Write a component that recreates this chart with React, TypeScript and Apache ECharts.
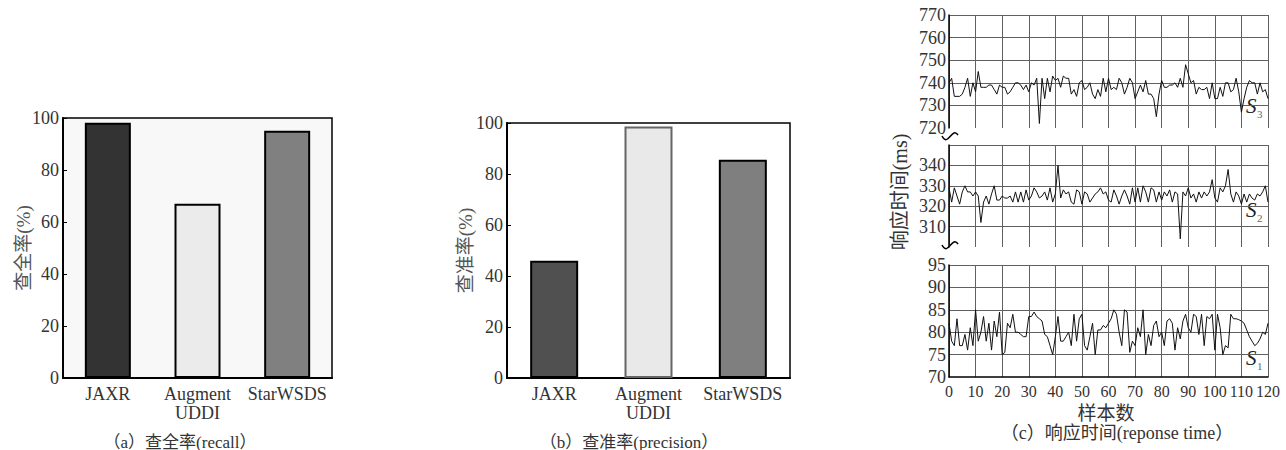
import React, { useEffect, useRef } from "react";
import * as echarts from "echarts";

const barCategories = ["JAXR", "Augment\nUDDI", "StarWSDS"];
const recallValues = [98.2, 67.0, 95.1];
const precisionValues = [46.0, 98.6, 85.6];

const sampleTickLabels = ["0", "10", "20", "30", "40", "50", "60", "70", "80", "90", "100", "110", "120"];

const s3Values = [
  740, 742, 734, 734, 734, 735, 738, 742, 734, 740,
  736, 745, 738, 738, 738, 739, 739, 737, 735, 739,
  738, 738, 735, 736, 738, 740, 740, 739, 737, 739,
  736, 740, 739, 742, 722, 742, 733, 742, 736, 743,
  741, 742, 738, 743, 742, 742, 735, 737, 734, 740,
  741, 737, 738, 740, 735, 733, 737, 734, 742, 736,
  742, 737, 738, 737, 742, 740, 735, 738, 742, 740,
  733, 736, 739, 736, 741, 735, 735, 733, 725, 735,
  741, 738, 738, 739, 739, 740, 738, 742, 738, 748,
  744, 740, 741, 735, 738, 737, 737, 738, 733, 740,
  733, 733, 738, 734, 740, 740, 736, 737, 742, 736,
  727, 733, 738, 741, 740, 740, 735, 740, 736, 737,
  733,
];

const s2Values = [
  329, 322, 329, 325, 321, 327, 330, 327, 327, 325,
  327, 325, 312, 322, 325, 321, 326, 330, 323, 323,
  325, 324, 324, 325, 322, 327, 322, 327, 322, 328,
  323, 325, 329, 327, 324, 325, 327, 323, 329, 322,
  326, 340, 324, 328, 326, 327, 322, 321, 328, 327,
  321, 327, 326, 322, 324, 326, 327, 329, 326, 327,
  323, 322, 328, 325, 321, 325, 328, 325, 321, 329,
  322, 329, 322, 330, 327, 322, 329, 328, 322, 327,
  323, 327, 325, 328, 322, 327, 326, 304, 327, 325,
  329, 324, 326, 322, 327, 324, 327, 325, 327, 333,
  324, 322, 329, 327, 330, 338, 326, 322, 327, 325,
  321, 326, 322, 326, 324, 323, 326, 325, 327, 330,
  322,
];

const s1Values = [
  82, 78, 77, 83, 77, 77, 79.5, 76, 81, 77,
  85, 78, 80, 83.5, 78, 82, 76, 82.5, 79, 84.5,
  75, 75.5, 82, 81, 84, 80, 80, 79.5, 79, 79,
  83.5, 83.5, 84.5, 83.5, 83, 82.5, 79.5, 79, 77, 75,
  79, 83.5, 78, 78, 79, 80, 77, 84, 78, 83,
  84, 77, 76, 79, 82, 75, 80.5, 80.5, 81.5, 81,
  82, 83, 85, 84, 80, 77, 85, 84.5, 75.5, 78,
  77, 81, 79, 85, 75, 79.5, 77, 81.5, 82.5, 79,
  80, 77, 82.5, 83, 82, 76, 81, 78.5, 82.5, 84,
  81, 80, 84, 83.5, 79.5, 84, 77, 83.5, 83, 84,
  76, 84, 81, 75, 77, 76.5, 84, 83, 83, 82.8,
  82.5, 82, 80.5, 79, 78, 77, 77.5, 78.5, 80, 79.5,
  82,
];

const recallColors = ["#333333", "#ebebeb", "#808080"];
const recallBorders = ["#000000", "#000000", "#000000"];
const precisionColors = ["#505050", "#e9e9e9", "#7f7f7f"];
const precisionBorders = ["#000000", "#666666", "#000000"];

const SERIF = "'Liberation Serif', 'Noto Sans CJK SC', serif";
const TXT = "#333333";
const GRIDC = "#606060";

function barXAxis(gridIndex: number) {
  return {
    type: "category",
    gridIndex,
    data: barCategories,
    axisLine: { show: true, lineStyle: { color: "#000", width: 2 } },
    axisTick: { show: false },
    axisLabel: { color: TXT, fontFamily: SERIF, fontSize: 18, lineHeight: 19, margin: 6, interval: 0 },
  };
}

function barYAxis(gridIndex: number, name: string, gap: number) {
  return {
    type: "value",
    gridIndex,
    min: 0,
    max: 100,
    interval: 20,
    name,
    nameLocation: "middle",
    nameGap: gap,
    nameMoveOverlap: false,
    nameRotate: 90,
    nameTextStyle: { color: "#555", fontFamily: SERIF, fontSize: 19 },
    axisLine: { show: true, lineStyle: { color: "#000", width: 2 } },
    axisTick: { show: true, inside: true, length: 4, lineStyle: { color: "#000" } },
    axisLabel: { color: TXT, fontFamily: SERIF, fontSize: 18, margin: 4 },
    splitLine: { show: false },
  };
}

function sampleXAxis(gridIndex: number, showLabels: boolean) {
  return {
    type: "value",
    gridIndex,
    min: 0,
    max: 120,
    interval: 10,
    axisLine: { show: showLabels, onZero: false, lineStyle: { color: "#000", width: 1.5 } },
    axisTick: { show: false },
    axisLabel: {
      show: showLabels,
      color: TXT,
      fontFamily: SERIF,
      fontSize: 16,
      margin: 6,
      formatter: (v: number) => sampleTickLabels[Math.round(v / 10)] ?? "",
    },
    splitLine: { show: true, lineStyle: { color: GRIDC, width: 1 } },
  };
}

function respYAxis(gridIndex: number, min: number, max: number, interval: number, hideEnds: boolean) {
  const n = Math.round((max - min) / interval) + 1;
  const colors: string[] = [];
  for (let i = 0; i < n; i++) colors.push(i === 0 ? "rgba(0,0,0,0)" : GRIDC);
  return {
    type: "value",
    gridIndex,
    min,
    max,
    interval,
    axisLine: { show: true, onZero: false, lineStyle: { color: "#000", width: 1.5 } },
    axisTick: { show: false },
    axisLabel: {
      color: TXT,
      fontFamily: SERIF,
      fontSize: 18,
      margin: 3,
      showMinLabel: !hideEnds,
      showMaxLabel: !hideEnds,
    },
    splitLine: { show: true, lineStyle: { color: colors, width: 1 } },
  };
}

export default function App() {
  const ref = useRef<HTMLDivElement>(null);
  useEffect(() => {
    if (!ref.current) return;
    const chart = echarts.init(ref.current, undefined, { renderer: "svg" });

    const lineSeries = (vals: number[], idx: number) => ({
      type: "line",
      xAxisIndex: idx,
      yAxisIndex: idx,
      data: vals.map((v, i) => [i, v]),
      showSymbol: false,
      symbol: "none",
      lineStyle: { color: "#111", width: 1 },
      silent: true,
    });

    const tilde = (x: number, y: number) => ({
      type: "bezierCurve",
      shape: { x1: x, y1: y + 2, cpx1: x + 6, cpy1: y + 14, cpx2: x + 10, cpy2: y - 8, x2: x + 16, y2: y + 1 },
      style: { stroke: "#000", lineWidth: 1.5, fill: "none" },
    });

    const capText = (text: string, x: number, y: number, fontSize: number, extra: any = {}) => ({
      type: "text",
      x,
      y,
      ...extra,
      style: {
        text,
        fill: TXT,
        fontFamily: SERIF,
        fontSize,
        align: "center",
        verticalAlign: "middle",
        textAlign: "center",
        textVerticalAlign: "middle",
      },
    });

    const sLabel = (sub: string, x: number, y: number) => [
      {
        type: "text",
        x,
        y,
        style: { text: "S", fill: "#222", fontFamily: SERIF, fontSize: 21, fontStyle: "italic", align: "left", verticalAlign: "middle" },
      },
      {
        type: "text",
        x: x + 11,
        y: y + 8,
        style: { text: sub, fill: "#666", fontFamily: SERIF, fontSize: 11, align: "left", verticalAlign: "middle" },
      },
    ];

    chart.setOption({
      animation: false,
      backgroundColor: "#ffffff",
      grid: [
        { left: 63, top: 118, width: 269, height: 260, show: true, backgroundColor: "#f8f8f8", borderColor: "#000", borderWidth: 1.5 },
        { left: 507, top: 123, width: 283, height: 255, show: true, backgroundColor: "#ffffff", borderColor: "#000", borderWidth: 1.5 },
        { left: 949, top: 15, width: 319, height: 113 },
        { left: 949, top: 145, width: 319, height: 102 },
        { left: 949, top: 265, width: 319, height: 112 },
      ],
      xAxis: [barXAxis(0), barXAxis(1), sampleXAxis(2, false), sampleXAxis(3, false), sampleXAxis(4, true)],
      yAxis: [
        barYAxis(0, "查全率(%)", 30),
        barYAxis(1, "查准率(%)", 32),
        respYAxis(2, 720, 770, 10, false),
        respYAxis(3, 300, 350, 10, true),
        respYAxis(4, 70, 95, 5, false),
      ],
      series: [
        {
          type: "bar",
          xAxisIndex: 0,
          yAxisIndex: 0,
          barWidth: 46,
          data: recallValues.map((v, i) => ({
            value: v,
            itemStyle: { color: recallColors[i], borderColor: recallBorders[i], borderWidth: 2 },
          })),
        },
        {
          type: "bar",
          xAxisIndex: 1,
          yAxisIndex: 1,
          barWidth: 48,
          data: precisionValues.map((v, i) => ({
            value: v,
            itemStyle: { color: precisionColors[i], borderColor: precisionBorders[i], borderWidth: 2 },
          })),
        },
        lineSeries(s3Values, 2),
        lineSeries(s2Values, 3),
        lineSeries(s1Values, 4),
      ],
      graphic: [
        capText("（a）查全率(recall）", 180, 442, 17),
        capText("（b）查准率(precision）", 629, 442, 17),
        capText("样本数", 1106, 413, 19),
        capText("（c）响应时间(reponse time）", 1117, 433, 18),
        capText("响应时间(ms)", 900, 192, 20, { rotation: Math.PI / 2 }),
        tilde(942, 134),
        tilde(942, 243),
        ...sLabel("3", 1246, 106),
        ...sLabel("2", 1246, 210),
        ...sLabel("1", 1246, 358),
      ],
    });
    return () => chart.dispose();
  }, []);
  return <div ref={ref} style={{ position: "absolute", left: 0, top: 0, width: 1286, height: 450 }} />;
}
